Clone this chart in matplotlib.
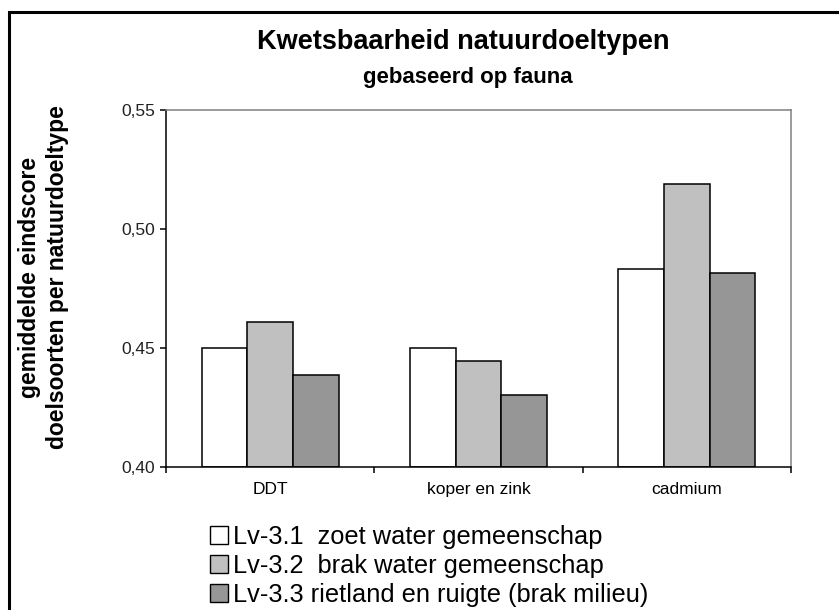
import numpy as np
import matplotlib
matplotlib.use("Agg")
import matplotlib.pyplot as plt
from matplotlib.patches import Rectangle, Patch
from matplotlib.ticker import FuncFormatter

plt.rcParams['font.family'] = ['Liberation Sans', 'DejaVu Sans']

# Data
categories = ["DDT", "koper en zink", "cadmium"]
series_labels = ["Lv-3.1  zoet water gemeenschap",
                 "Lv-3.2  brak water gemeenschap",
                 "Lv-3.3 rietland en ruigte (brak milieu)"]
lv31 = [0.450, 0.450, 0.483]
lv32 = [0.461, 0.4445, 0.519]
lv33 = [0.4387, 0.4303, 0.4815]
y_ticks = [0.40, 0.45, 0.50, 0.55]

colors = ["#FFFFFF", "#C0C0C0", "#969696"]

fig = plt.figure(figsize=(8.39, 6.10), dpi=100)
W, H = 839, 610

# axes placed in pixel terms of the reference
ax = fig.add_axes([166 / W, 1 - 467 / H, 625 / W, 357 / H])

x = np.arange(len(categories))
width = 0.219
for i, (vals, col) in enumerate(zip([lv31, lv32, lv33], colors)):
    ax.bar(x + (i - 1) * width, np.array(vals) - 0.40, width, bottom=0.40,
           color=col, edgecolor="black", linewidth=1.1, zorder=2)

ax.set_xlim(-0.5, len(categories) - 0.5)
ax.set_ylim(0.40, 0.55)
ax.set_yticks(y_ticks)
ax.yaxis.set_major_formatter(FuncFormatter(lambda v, p: f"{v:.2f}".replace(".", ",")))

ax.set_xticks(x)
ax.set_xticklabels(categories)
ax.set_xticks(np.arange(len(categories) + 1) - 0.5, minor=True)
ax.tick_params(axis="x", which="major", length=0, pad=11, labelsize=12.5)
ax.tick_params(axis="x", which="minor", length=4, width=1.1, direction="out")
ax.tick_params(axis="y", length=4, width=1.1, pad=4, labelsize=12.5, colors="black")
for lbl in ax.get_yticklabels():
    lbl.set_color("#222222")

for side in ["left", "bottom"]:
    ax.spines[side].set_color("black")
    ax.spines[side].set_linewidth(1.1)
for side in ["top", "right"]:
    ax.spines[side].set_color("#808080")
    ax.spines[side].set_linewidth(1.1)

# titles
fig.text(463 / W, 1 - 49 / H, "Kwetsbaarheid natuurdoeltypen", ha="center",
         va="baseline", fontsize=19.5, fontweight="bold")
fig.text(468 / W, 1 - 83 / H, "gebaseerd op fauna", ha="center",
         va="baseline", fontsize=16, fontweight="bold")

# y label, two lines
fig.text(30 / W, 1 - 277 / H, "gemiddelde eindscore", rotation=90,
         ha="center", va="center", fontsize=16.5, fontweight="bold")
fig.text(58 / W, 1 - 277 / H, "doelsoorten per natuurdoeltype", rotation=90,
         ha="center", va="center", fontsize=16.5, fontweight="bold")

# legend
handles = [Patch(facecolor=c, edgecolor="black", linewidth=1.0) for c in colors]
fig.legend(handles, series_labels, loc="upper left",
           bbox_to_anchor=(210 / W, 1 - 525 / H), frameon=False,
           fontsize=18.3, handlelength=0.7, handleheight=0.7,
           handletextpad=0.2, labelspacing=0.2, borderpad=0, borderaxespad=0)

# outer border, cut off at right and bottom as in the reference
fig.patches.append(Rectangle((9 / W, -0.05), 1.1, 1 - 12 / H + 0.05,
                             transform=fig.transFigure, fill=False,
                             edgecolor="black", linewidth=2.2))

fig.savefig("out.png", dpi=100)
